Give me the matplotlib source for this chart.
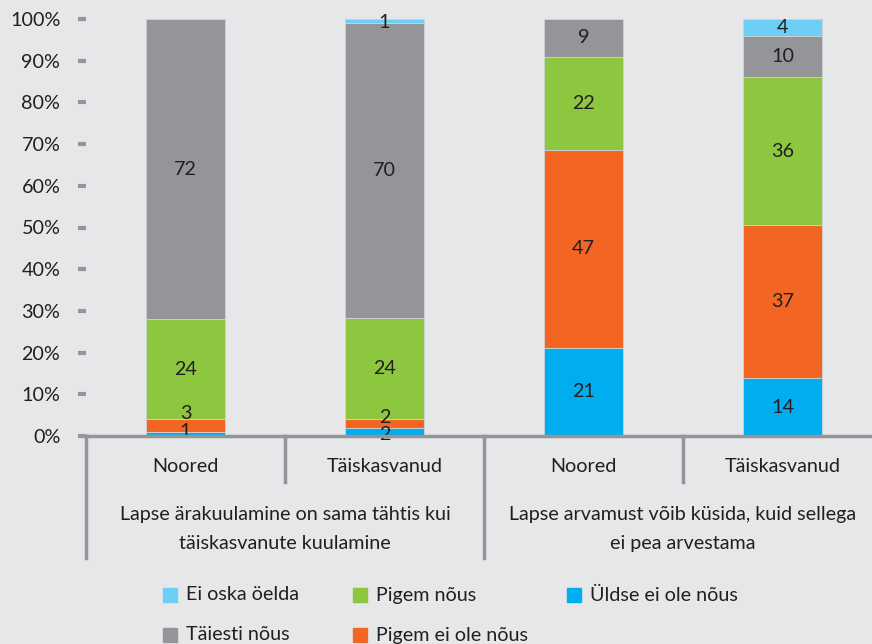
import numpy as np
import matplotlib
matplotlib.use("Agg")
import matplotlib.pyplot as plt
from matplotlib.patches import Rectangle

plt.rcParams['font.family'] = ['Lato', 'DejaVu Sans']

# andmed (alt üles)
alarühmad = ['Noored', 'Täiskasvanud', 'Noored', 'Täiskasvanud']
rühmad = ['Lapse ärakuulamine on sama tähtis kui\ntäiskasvanute kuulamine',
          'Lapse arvamust võib küsida, kuid sellega\nei pea arvestama']
seeriad = ['Üldse ei ole nõus', 'Pigem ei ole nõus', 'Pigem nõus', 'Täiesti nõus', 'Ei oska öelda']
väärtused = {
    'Üldse ei ole nõus': [1, 2, 21, 14],
    'Pigem ei ole nõus': [3, 2, 47, 37],
    'Pigem nõus': [24, 24, 22, 36],
    'Täiesti nõus': [72, 70, 9, 10],
    'Ei oska öelda': [0, 1, 0, 4],
}
värvid = {
    'Üldse ei ole nõus': '#00aeef',
    'Pigem ei ole nõus': '#f26522',
    'Pigem nõus': '#8dc63f',
    'Täiesti nõus': '#939598',
    'Ei oska öelda': '#6dcff6',
}
# siltide nihked pikslites (väikesed lõigud)
nihked = {(0, 0): 2, (0, 1): 12, (1, 0): -3, (1, 1): 6, (1, 4): -1}

taust = '#e6e7e8'
hall = '#939598'
tekst = '#231f20'
fs = 14.2

W, H = 872, 644
fig = plt.figure(figsize=(W / 100, H / 100), dpi=100, facecolor=taust)
ax = fig.add_axes([86 / W, (H - 436) / H, (882 - 86) / W, (436 - 19) / H])
ax.set_facecolor(taust)

x = np.arange(len(alarühmad))
summad = np.sum([väärtused[s] for s in seeriad], axis=0)
põhi = np.zeros(len(x))
for si, s in enumerate(seeriad):
    v = np.array(väärtused[s], dtype=float)
    osa = v / summad * 100
    ax.bar(x, osa, 0.4, bottom=põhi, color=värvid[s], edgecolor='#d0d2d3', linewidth=0.6, zorder=2)
    for i in range(len(x)):
        if v[i] > 0:
            ax.annotate(f'{int(v[i])}', (x[i], põhi[i] + osa[i] / 2),
                        xytext=(0, nihked.get((i, si), 0)), textcoords='offset pixels',
                        ha='center', va='center', fontsize=fs, color=tekst, zorder=3)
    põhi += osa

ax.set_xlim(-0.5, 3.5)
ax.set_ylim(0, 100)
ax.set_yticks(np.arange(0, 101, 10))
ax.set_yticklabels([f'{t}%' for t in range(0, 101, 10)], fontsize=fs, color=tekst)
ax.tick_params(axis='y', length=5.5, width=3, color=hall, pad=13)
ax.tick_params(axis='x', length=0, labelbottom=False)
for sp in ['left', 'right', 'top']:
    ax.spines[sp].set_visible(False)
ax.spines['bottom'].set_color(hall)
ax.spines['bottom'].set_linewidth(2.5)
ax.spines['bottom'].set_zorder(4)

tr = ax.get_xaxis_transform()
for i, nimi in enumerate(alarühmad):
    ax.text(x[i], -0.072, nimi, transform=tr, ha='center', va='center', fontsize=fs, color=tekst)
for j, nimi in enumerate(rühmad):
    ax.text(2 * j + 0.5, -0.223, nimi, transform=tr, ha='center', va='center',
            fontsize=fs, color=tekst, linespacing=1.8)
for xl in [0.5, 2.5]:
    ax.plot([xl, xl], [0, -0.11], transform=tr, color=hall, lw=2.5, clip_on=False)
for xl in [-0.5, 1.5, 3.5]:
    ax.plot([xl, xl], [0, -0.293], transform=tr, color=hall, lw=2.5, clip_on=False)

# legend käsitsi
legend_järjestus = [('Ei oska öelda', 163, 595), ('Täiesti nõus', 163, 635),
                    ('Pigem nõus', 353, 595), ('Pigem ei ole nõus', 353, 635),
                    ('Üldse ei ole nõus', 567, 595)]
for nimi, lx, ly in legend_järjestus:
    fig.patches.append(Rectangle((lx / W, (H - ly - 7) / H), 14 / W, 14 / H,
                                 transform=fig.transFigure, color=värvid[nimi]))
    fig.text((lx + 23) / W, (H - ly) / H, nimi, ha='left', va='center', fontsize=fs, color=tekst)

fig.savefig('out.png', dpi=100, facecolor=taust)
